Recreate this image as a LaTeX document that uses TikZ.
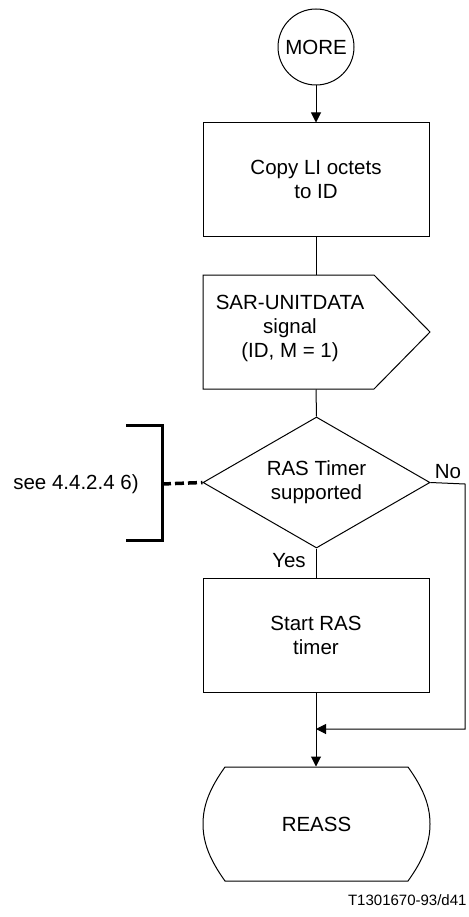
\documentclass[tikz,border=0pt]{standalone}
\usepackage{fontspec}
\setmainfont{Liberation Sans}
\usetikzlibrary{shapes.geometric,arrows.meta}
\begin{document}
\begin{tikzpicture}[x=1pt,y=-1pt,
  line width=1pt,
  every node/.style={font=\fontsize{20.5}{24}\selectfont, inner sep=0pt},
  boxnode/.style={draw, minimum width=226pt, minimum height=114pt, align=center},
  arr/.style={-{Triangle[length=10pt,width=10pt]}},
  bracketline/.style={line width=3pt},
  dashline/.style={line width=3.5pt, dash pattern=on 9pt off 4pt},
  footnote/.style={font=\fontsize{15}{17}\selectfont}]
\useasboundingbox (0,0) rectangle (468,917);

% start connector
\node[circle, draw, minimum size=76pt] (more) at (316,47) {MORE};

% task box
\node[boxnode, minimum height=113pt] (copy) at (316,179.5) {Copy LI octets\\to ID};

% output signal
\node[minimum width=227pt, minimum height=114pt] (sig) at (316.5,332) {};
\draw (203,275) -- (374,275) -- (430,332) -- (374,389) -- (203,389) -- cycle;
\node[align=center] (sigtext) at (290,328) {SAR-UNITDATA\\signal\\(ID, M = 1)};

% decision
\node[diamond, draw, minimum width=227pt, minimum height=131pt, aspect=1.73, align=center] (dec) at (316.5,482.5) {RAS Timer\\supported};

% second task
\node[boxnode] (start) at (316,635) {Start RAS\\timer};

% terminal (REASS)
\node[minimum width=227pt, minimum height=114pt] (reass) at (316.5,824) {REASS};
\draw (225,767) -- (408,767)
  .. controls (423,788) and (430,805) .. (430,824)
  .. controls (430,843) and (423,860) .. (408,881)
  -- (225,881)
  .. controls (210,860) and (203,843) .. (203,824)
  .. controls (203,805) and (210,788) .. (225,767) -- cycle;

% comment bracket
\draw[bracketline] (126,425) -- (162,425) -- (162,540) -- (126,540);
\coordinate (br) at (162,484);
\node (see) at (76,484) {see 4.4.2.4 6)};
\draw[dashline] (br) -- (dec.west);

% connectors
\draw[arr] (more) -- (more |- copy.north);
\draw (copy.south) -- (copy.south |- sig.north);
\draw (copy.south |- sig.south) -- (dec.north);
\draw (dec.south) -- (dec.south |- start.north);
\node (yes) at (289,561) {Yes};
\node (no) at (448,472) {No};
\coordinate (nocorner) at (465,484);
\coordinate (nobottom) at (465,729);
\coordinate (merge) at (316,729);
\draw[arr] (dec.east) -- (nocorner) -- (nobottom) -- (merge);
\draw[arr] (start.south) -- (start.south |- reass.north);

% figure id
\node[footnote, anchor=east] (fig) at (467,900) {T1301670-93/d41};
\end{tikzpicture}
\end{document}
